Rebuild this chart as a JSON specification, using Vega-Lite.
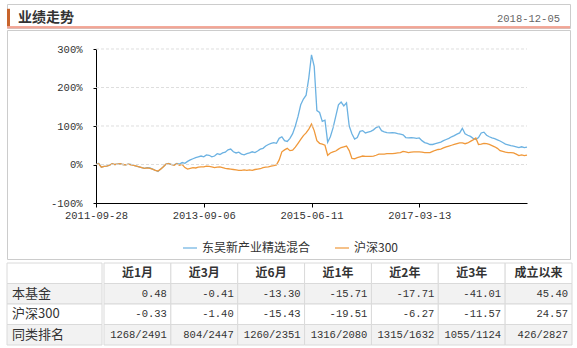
{
  "$schema": "https://vega.github.io/schema/vega-lite/v6.json",
  "padding": {"left": 5, "top": 3, "right": 4, "bottom": 0},
  "background": "white",
  "spacing": 2,
  "config": {"view": {"stroke": null}, "font": "Noto Sans CJK SC"},
  "resolve": {"scale": {"color": "independent", "fill": "independent"}},
  "vconcat": [
    {
      "spacing": 0,
      "vconcat": [
        {
          "width": 563,
          "height": 24,
          "view": {"stroke": "#cccccc"},
          "data": {"values": [{"side": "left", "label": "业绩走势"}, {"side": "right", "label": "2018-12-05"}]},
          "layer": [
            {
              "mark": {"type": "rule", "color": "#f2a595", "strokeWidth": 2},
              "encoding": {"y": {"datum": 0.03, "type": "quantitative", "scale": {"domain": [0, 1]}, "axis": null}}
            },
            {
              "transform": [{"filter": "datum.side === 'left'"}],
              "mark": {"type": "rule", "color": "#c8642c", "strokeWidth": 3, "xOffset": 1.5},
              "encoding": {
                "x": {"field": "side", "type": "nominal", "scale": {"type": "band", "domain": ["left", "right"], "paddingInner": 0, "paddingOuter": 0}, "axis": null, "bandPosition": 0},
                "y": {"datum": 0.08, "type": "quantitative"},
                "y2": {"datum": 0.8}
              }
            },
            {
              "transform": [{"filter": "datum.side === 'left'"}],
              "mark": {"type": "text", "align": "left", "baseline": "middle", "fontSize": 14, "fontWeight": "bold", "color": "#333333", "dx": 11},
              "encoding": {
                "x": {"field": "side", "type": "nominal", "bandPosition": 0},
                "y": {"datum": 0.4, "type": "quantitative"},
                "text": {"field": "label"}
              }
            },
            {
              "transform": [{"filter": "datum.side === 'right'"}],
              "mark": {"type": "text", "align": "right", "baseline": "middle", "font": "Liberation Mono", "fontSize": 10.5, "color": "#666666", "dx": -10},
              "encoding": {
                "x": {"field": "side", "type": "nominal", "bandPosition": 1},
                "y": {"datum": 0.38, "type": "quantitative"},
                "text": {"field": "label"}
              }
            }
          ]
        },
        {
          "width": 563,
          "height": 229,
          "view": {"stroke": "#cccccc"},
          "layer": [
            {
              "data": {"values": [
                {"d":"2011-09-28","东吴新产业精选混合":0,"沪深300":0},
                {"d":"2011-10-17","东吴新产业精选混合":3,"沪深300":2},
                {"d":"2011-11-03","东吴新产业精选混合":-7,"沪深300":-7},
                {"d":"2011-11-21","东吴新产业精选混合":-5,"沪深300":-5},
                {"d":"2011-12-08","东吴新产业精选混合":-4,"沪深300":-4},
                {"d":"2011-12-26","东吴新产业精选混合":-2,"沪深300":-2},
                {"d":"2012-01-13","东吴新产业精选混合":2,"沪深300":2},
                {"d":"2012-02-06","东吴新产业精选混合":0,"沪深300":0},
                {"d":"2012-02-23","东吴新产业精选混合":1,"沪深300":1},
                {"d":"2012-03-12","东吴新产业精选混合":2,"沪深300":2},
                {"d":"2012-03-29","东吴新产业精选混合":0,"沪深300":0},
                {"d":"2012-04-18","东吴新产业精选混合":-1,"沪深300":-1},
                {"d":"2012-05-07","东吴新产业精选混合":1,"沪深300":1},
                {"d":"2012-05-24","东吴新产业精选混合":0,"沪深300":-1},
                {"d":"2012-06-12","东吴新产业精选混合":-2,"沪深300":-2},
                {"d":"2012-06-29","东吴新产业精选混合":-4,"沪深300":-4},
                {"d":"2012-07-17","东吴新产业精选混合":-6,"沪深300":-6},
                {"d":"2012-08-03","东吴新产业精选混合":-8,"沪深300":-8},
                {"d":"2012-08-21","东吴新产业精选混合":-10,"沪深300":-10},
                {"d":"2012-09-07","东吴新产业精选混合":-8,"沪深300":-9},
                {"d":"2012-09-25","东吴新产业精选混合":-9,"沪深300":-10},
                {"d":"2012-10-17","东吴新产业精选混合":-12,"沪深300":-12},
                {"d":"2012-11-05","东吴新产业精选混合":-15,"沪深300":-15},
                {"d":"2012-11-22","东吴新产业精选混合":-18,"沪深300":-17},
                {"d":"2012-12-10","东吴新产业精选混合":-12,"沪深300":-12},
                {"d":"2012-12-27","东吴新产业精选混合":-6,"沪深300":-6},
                {"d":"2013-01-16","东吴新产业精选混合":1,"沪深300":1},
                {"d":"2013-02-04","东吴新产业精选混合":3,"沪深300":2},
                {"d":"2013-02-27","东吴新产业精选混合":0,"沪深300":0},
                {"d":"2013-03-15","东吴新产业精选混合":-1,"沪深300":-2},
                {"d":"2013-04-02","东吴新产业精选混合":3,"沪深300":2},
                {"d":"2013-04-22","东吴新产业精选混合":1,"沪深300":-2},
                {"d":"2013-05-09","东吴新产业精选混合":5,"沪深300":0},
                {"d":"2013-05-27","东吴新产业精选混合":3,"沪深300":-8},
                {"d":"2013-06-17","东吴新产业精选混合":8,"沪深300":-12},
                {"d":"2013-07-03","东吴新产业精选混合":12,"沪深300":-10},
                {"d":"2013-07-19","东吴新产业精选混合":15,"沪深300":-8},
                {"d":"2013-08-06","东吴新产业精选混合":18,"沪深300":-9},
                {"d":"2013-08-21","东吴新产业精选混合":20,"沪深300":-7},
                {"d":"2013-08-28","东吴新产业精选混合":22,"沪深300":-6},
                {"d":"2013-09-06","东吴新产业精选混合":20,"沪深300":-6},
                {"d":"2013-09-24","东吴新产业精选混合":25,"沪深300":-4},
                {"d":"2013-10-15","东吴新产业精选混合":24,"沪深300":-5},
                {"d":"2013-10-30","东吴新产业精选混合":20,"沪深300":-6},
                {"d":"2013-11-14","东吴新产业精选混合":22,"沪深300":-8},
                {"d":"2013-11-29","东吴新产业精选混合":28,"沪深300":-7},
                {"d":"2013-12-16","东吴新产业精选混合":26,"沪深300":-6},
                {"d":"2013-12-31","东吴新产业精选混合":30,"沪深300":-8},
                {"d":"2014-01-16","东吴新产业精选混合":32,"沪深300":-10},
                {"d":"2014-02-07","东吴新产业精选混合":38,"沪深300":-11},
                {"d":"2014-02-24","东吴新产业精选混合":40,"沪深300":-12},
                {"d":"2014-03-11","东吴新产业精选混合":33,"沪深300":-13},
                {"d":"2014-03-26","东吴新产业精选混合":30,"沪深300":-14},
                {"d":"2014-04-10","东吴新产业精选混合":32,"沪深300":-15},
                {"d":"2014-04-25","东吴新产业精选混合":27,"沪深300":-15},
                {"d":"2014-05-13","东吴新产业精选混合":25,"沪深300":-14},
                {"d":"2014-05-28","东吴新产业精选混合":28,"沪深300":-15},
                {"d":"2014-06-13","东吴新产业精选混合":30,"沪深300":-14},
                {"d":"2014-06-30","东吴新产业精选混合":33,"沪深300":-15},
                {"d":"2014-07-15","东吴新产业精选混合":31,"沪深300":-13},
                {"d":"2014-07-30","东吴新产业精选混合":35,"沪深300":-12},
                {"d":"2014-08-14","东吴新产业精选混合":40,"沪深300":-11},
                {"d":"2014-08-29","东吴新产业精选混合":42,"沪深300":-8},
                {"d":"2014-09-16","东吴新产业精选混合":48,"沪深300":-7},
                {"d":"2014-10-08","东吴新产业精选混合":52,"沪深300":-6},
                {"d":"2014-10-23","东吴新产业精选混合":55,"沪深300":-4},
                {"d":"2014-11-07","东吴新产业精选混合":57,"沪深300":-3},
                {"d":"2014-11-24","东吴新产业精选混合":55,"沪深300":-1},
                {"d":"2014-12-09","东吴新产业精选混合":68,"沪深300":12},
                {"d":"2014-12-24","东吴新产业精选混合":72,"沪深300":33},
                {"d":"2015-01-09","东吴新产业精选混合":62,"沪深300":38},
                {"d":"2015-01-26","东吴新产业精选混合":60,"沪深300":42},
                {"d":"2015-02-10","东吴新产业精选混合":68,"沪深300":36},
                {"d":"2015-03-03","东吴新产业精选混合":80,"沪深300":37},
                {"d":"2015-03-18","东吴新产业精选混合":100,"沪深300":45},
                {"d":"2015-04-02","东吴新产业精选混合":125,"沪深300":55},
                {"d":"2015-04-20","东吴新产业精选混合":155,"沪深300":65},
                {"d":"2015-05-05","东吴新产业精选混合":170,"沪深300":75},
                {"d":"2015-05-20","东吴新产业精选混合":180,"沪深300":82},
                {"d":"2015-06-03","东吴新产业精选混合":225,"沪深300":92},
                {"d":"2015-06-11","东吴新产业精选混合":285,"沪深300":105},
                {"d":"2015-06-26","东吴新产业精选混合":255,"沪深300":88},
                {"d":"2015-07-13","东吴新产业精选混合":140,"沪深300":62},
                {"d":"2015-07-28","东吴新产业精选混合":135,"沪深300":55},
                {"d":"2015-08-12","东吴新产业精选混合":112,"沪深300":53},
                {"d":"2015-08-27","东吴新产业精选混合":115,"沪深300":50},
                {"d":"2015-09-15","东吴新产业精选混合":58,"沪深300":24},
                {"d":"2015-10-08","东吴新产业精选混合":72,"沪深300":30},
                {"d":"2015-10-23","东吴新产业精选混合":95,"沪深300":33},
                {"d":"2015-11-09","东吴新产业精选混合":125,"沪深300":35},
                {"d":"2015-11-24","东吴新产业精选混合":155,"沪深300":40},
                {"d":"2015-12-09","东吴新产业精选混合":162,"沪深300":44},
                {"d":"2015-12-24","东吴新产业精选混合":152,"沪深300":46},
                {"d":"2016-01-08","东吴新产业精选混合":160,"沪深300":48},
                {"d":"2016-01-25","东吴新产业精选混合":100,"沪深300":36},
                {"d":"2016-02-15","东吴新产业精选混合":80,"沪深300":16},
                {"d":"2016-03-01","东吴新产业精选混合":66,"沪深300":15},
                {"d":"2016-03-16","东吴新产业精选混合":70,"沪深300":18},
                {"d":"2016-03-31","东吴新产业精选混合":86,"沪深300":20},
                {"d":"2016-04-18","东吴新产业精选混合":88,"沪深300":22},
                {"d":"2016-05-04","东吴新产业精选混合":82,"沪深300":21},
                {"d":"2016-05-19","东吴新产业精选混合":84,"沪深300":21},
                {"d":"2016-06-03","东吴新产业精选混合":86,"沪深300":21},
                {"d":"2016-06-22","东吴新产业精选混合":90,"沪深300":22},
                {"d":"2016-07-07","东吴新产业精选混合":96,"沪深300":24},
                {"d":"2016-07-22","东吴新产业精选混合":99,"沪深300":27},
                {"d":"2016-08-08","东吴新产业精选混合":88,"沪深300":27},
                {"d":"2016-08-23","东吴新产业精选混合":85,"沪深300":27},
                {"d":"2016-09-07","东吴新产业精选混合":83,"沪深300":28},
                {"d":"2016-09-26","东吴新产业精选混合":82,"沪深300":28},
                {"d":"2016-10-17","东吴新产业精选混合":83,"沪深300":28},
                {"d":"2016-11-01","东吴新产业精选混合":82,"沪深300":29},
                {"d":"2016-11-16","东吴新产业精选混合":80,"沪深300":30},
                {"d":"2016-12-01","东吴新产业精选混合":79,"沪深300":31},
                {"d":"2016-12-16","东吴新产业精选混合":77,"沪深300":34},
                {"d":"2017-01-03","东吴新产业精选混合":70,"沪深300":33},
                {"d":"2017-01-18","东吴新产业精选混合":69,"沪深300":31},
                {"d":"2017-02-09","东吴新产业精选混合":70,"沪深300":32},
                {"d":"2017-02-24","东吴新产业精选混合":69,"沪深300":33},
                {"d":"2017-03-06","东吴新产业精选混合":68,"沪深300":33},
                {"d":"2017-03-13","东吴新产业精选混合":69,"沪深300":33},
                {"d":"2017-03-28","东吴新产业精选混合":62,"沪深300":32},
                {"d":"2017-04-14","东吴新产业精选混合":57,"沪深300":31},
                {"d":"2017-05-02","东吴新产业精选混合":55,"沪深300":31},
                {"d":"2017-05-17","东吴新产业精选混合":52,"沪深300":31},
                {"d":"2017-06-02","东吴新产业精选混合":52,"沪深300":34},
                {"d":"2017-06-19","东吴新产业精选混合":54,"沪深300":37},
                {"d":"2017-07-04","东吴新产业精选混合":56,"沪深300":39},
                {"d":"2017-07-19","东吴新产业精选混合":58,"沪深300":40},
                {"d":"2017-08-03","东吴新产业精选混合":62,"沪深300":43},
                {"d":"2017-08-18","东吴新产业精选混合":65,"沪深300":46},
                {"d":"2017-09-04","东吴新产业精选混合":68,"沪深300":48},
                {"d":"2017-09-19","东吴新产业精选混合":72,"沪深300":50},
                {"d":"2017-10-11","东吴新产业精选混合":75,"沪深300":52},
                {"d":"2017-10-26","东吴新产业精选混合":79,"沪深300":54},
                {"d":"2017-11-10","东吴新产业精选混合":82,"沪深300":56},
                {"d":"2017-11-27","东吴新产业精选混合":94,"沪深300":56},
                {"d":"2017-12-12","东吴新产业精选混合":80,"沪深300":54},
                {"d":"2017-12-27","东吴新产业精选混合":76,"沪深300":56},
                {"d":"2018-01-12","东吴新产业精选混合":73,"沪深300":60},
                {"d":"2018-01-24","东吴新产业精选混合":68,"沪深300":64},
                {"d":"2018-01-29","东吴新产业精选混合":65,"沪深300":69},
                {"d":"2018-02-22","东吴新产业精选混合":70,"沪深300":52},
                {"d":"2018-03-09","东吴新产业精选混合":82,"沪深300":53},
                {"d":"2018-03-26","东吴新产业精选混合":84,"沪深300":55},
                {"d":"2018-04-11","东吴新产业精选混合":76,"沪深300":54},
                {"d":"2018-04-26","东吴新产业精选混合":72,"沪深300":52},
                {"d":"2018-05-14","东吴新产业精选混合":69,"沪深300":49},
                {"d":"2018-05-29","东吴新产业精选混合":67,"沪深300":46},
                {"d":"2018-06-13","东吴新产业精选混合":64,"沪深300":42},
                {"d":"2018-06-29","东吴新产业精选混合":61,"沪深300":36},
                {"d":"2018-07-16","东吴新产业精选混合":57,"沪深300":34},
                {"d":"2018-07-31","东吴新产业精选混合":53,"沪深300":32},
                {"d":"2018-08-15","东吴新产业精选混合":51,"沪深300":31},
                {"d":"2018-08-30","东吴新产业精选混合":49,"沪深300":31},
                {"d":"2018-09-14","东吴新产业精选混合":48,"沪深300":30},
                {"d":"2018-10-08","东吴新产业精选混合":46,"沪深300":27},
                {"d":"2018-10-23","东吴新产业精选混合":44,"沪深300":23},
                {"d":"2018-11-07","东吴新产业精选混合":46,"沪深300":25},
                {"d":"2018-11-22","东吴新产业精选混合":44,"沪深300":23},
                {"d":"2018-12-05","东吴新产业精选混合":45.4,"沪深300":24.57}
              ]},
              "transform": [{"fold": ["东吴新产业精选混合", "沪深300"], "as": ["series", "pct"]}],
              "mark": {"type": "line", "strokeWidth": 1.3},
              "encoding": {
                "x": {
                  "field": "d", "type": "ordinal", "title": null,
                  "scale": {"type": "point", "padding": 0, "range": [89, 520]},
                  "axis": {"orient": "bottom", "offset": -56, "values": ["2011-09-28", "2013-09-06", "2015-06-11", "2017-03-13"], "labelAngle": 0, "labelFont": "Liberation Mono", "labelFontSize": 10.5, "labelColor": "#333333", "domainColor": "#000000", "tickColor": "#000000", "tickSize": 4, "labelPadding": 3, "grid": false, "labelOverlap": false}
                },
                "y": {
                  "field": "pct", "type": "quantitative", "title": null,
                  "scale": {"domain": [-100, 300], "range": [173, 19], "nice": false, "zero": false},
                  "axis": {"offset": -89, "values": [-100, 0, 100, 200, 300], "labelExpr": "datum.value + '%'", "grid": false, "domainColor": "#000000", "tickColor": "#000000", "tickSize": 3, "labelPadding": 11, "labelFont": "Liberation Mono", "labelFontSize": 10.5, "labelColor": "#333333", "labelFlush": false, "labelOverlap": false}
                },
                "color": {
                  "field": "series", "type": "nominal",
                  "scale": {"domain": ["东吴新产业精选混合", "沪深300"], "range": ["#6cb2e2", "#f0993b"]},
                  "legend": {"orient": "none", "legendX": 175, "legendY": 236, "direction": "horizontal", "title": null, "symbolType": "stroke", "symbolSize": 196, "symbolStrokeWidth": 2, "symbolOpacity": 0.6, "labelFont": "Noto Sans CJK SC", "labelFontSize": 12, "labelColor": "#333333", "columnPadding": 20, "labelOffset": 4, "padding": 0}
                }
              }
            },
            {
              "data": {"values": [{"g": 0}, {"g": 100}, {"g": 200}, {"g": 300}]},
              "mark": {"type": "rule", "color": "#d6d6d6", "strokeDash": [3, 2], "strokeWidth": 1, "opacity": 0.8},
              "encoding": {
                "y": {"field": "g", "type": "quantitative", "title": null},
                "x": {"datum": "2011-09-28", "type": "ordinal"},
                "x2": {"datum": "2018-12-05"}
              }
            }
          ]
        }
      ]
    },
    {
      "spacing": 0,
      "hconcat": [
        {
          "width": 95,
          "height": 82,
          "data": {"values": [{"row": "表头"}, {"row": "本基金"}, {"row": "沪深300"}, {"row": "同类排名"}]},
          "encoding": {
            "y": {"field": "row", "type": "nominal", "scale": {"type": "band", "domain": ["表头", "本基金", "沪深300", "同类排名"], "paddingInner": 0, "paddingOuter": 0}, "axis": null}
          },
          "layer": [
            {
              "mark": {"type": "rect", "stroke": "#dadada", "strokeWidth": 1},
              "encoding": {
                "fill": {"field": "row", "type": "nominal", "scale": {"domain": ["表头", "本基金", "沪深300", "同类排名"], "range": ["#ffffff", "#f2f2f2", "#ffffff", "#f2f2f2"]}, "legend": null}
              }
            },
            {
              "transform": [{"filter": "datum.row !== '表头'"}],
              "mark": {"type": "text", "align": "left", "baseline": "middle", "dx": 5, "fontSize": 13, "color": "#333333"},
              "encoding": {
                "x": {"datum": 0, "type": "quantitative", "scale": {"domain": [0, 1]}, "axis": null},
                "text": {"field": "row"}
              }
            }
          ]
        },
        {
          "width": 468,
          "height": 82,
          "data": {"values": [
            {"row": "表头", "col": "近1月", "v": "近1月"},
            {"row": "表头", "col": "近3月", "v": "近3月"},
            {"row": "表头", "col": "近6月", "v": "近6月"},
            {"row": "表头", "col": "近1年", "v": "近1年"},
            {"row": "表头", "col": "近2年", "v": "近2年"},
            {"row": "表头", "col": "近3年", "v": "近3年"},
            {"row": "表头", "col": "成立以来", "v": "成立以来"},
            {"row": "本基金", "col": "近1月", "v": "0.48"},
            {"row": "本基金", "col": "近3月", "v": "-0.41"},
            {"row": "本基金", "col": "近6月", "v": "-13.30"},
            {"row": "本基金", "col": "近1年", "v": "-15.71"},
            {"row": "本基金", "col": "近2年", "v": "-17.71"},
            {"row": "本基金", "col": "近3年", "v": "-41.01"},
            {"row": "本基金", "col": "成立以来", "v": "45.40"},
            {"row": "沪深300", "col": "近1月", "v": "-0.33"},
            {"row": "沪深300", "col": "近3月", "v": "-1.40"},
            {"row": "沪深300", "col": "近6月", "v": "-15.43"},
            {"row": "沪深300", "col": "近1年", "v": "-19.51"},
            {"row": "沪深300", "col": "近2年", "v": "-6.27"},
            {"row": "沪深300", "col": "近3年", "v": "-11.57"},
            {"row": "沪深300", "col": "成立以来", "v": "24.57"},
            {"row": "同类排名", "col": "近1月", "v": "1268/2491"},
            {"row": "同类排名", "col": "近3月", "v": "804/2447"},
            {"row": "同类排名", "col": "近6月", "v": "1260/2351"},
            {"row": "同类排名", "col": "近1年", "v": "1316/2080"},
            {"row": "同类排名", "col": "近2年", "v": "1315/1632"},
            {"row": "同类排名", "col": "近3年", "v": "1055/1124"},
            {"row": "同类排名", "col": "成立以来", "v": "426/2827"}
          ]},
          "encoding": {
            "x": {"field": "col", "type": "nominal", "scale": {"type": "band", "domain": ["近1月", "近3月", "近6月", "近1年", "近2年", "近3年", "成立以来"], "paddingInner": 0, "paddingOuter": 0}, "axis": null},
            "y": {"field": "row", "type": "nominal", "scale": {"type": "band", "domain": ["表头", "本基金", "沪深300", "同类排名"], "paddingInner": 0, "paddingOuter": 0}, "axis": null}
          },
          "layer": [
            {
              "mark": {"type": "rect", "stroke": "#dadada", "strokeWidth": 1},
              "encoding": {
                "fill": {"field": "row", "type": "nominal", "scale": {"domain": ["表头", "本基金", "沪深300", "同类排名"], "range": ["#ffffff", "#f2f2f2", "#ffffff", "#f2f2f2"]}, "legend": null}
              }
            },
            {
              "transform": [{"filter": "datum.row === '表头'"}],
              "mark": {"type": "text", "align": "center", "baseline": "middle", "fontSize": 12, "fontWeight": "bold", "color": "#333333"},
              "encoding": {"text": {"field": "v"}}
            },
            {
              "transform": [{"filter": "datum.row !== '表头'"}],
              "mark": {"type": "text", "align": "right", "baseline": "middle", "dx": -4, "font": "Liberation Mono", "fontSize": 10.5, "color": "#333333"},
              "encoding": {
                "x": {"field": "col", "type": "nominal", "bandPosition": 1},
                "text": {"field": "v"}
              }
            }
          ]
        }
      ]
    }
  ]
}
